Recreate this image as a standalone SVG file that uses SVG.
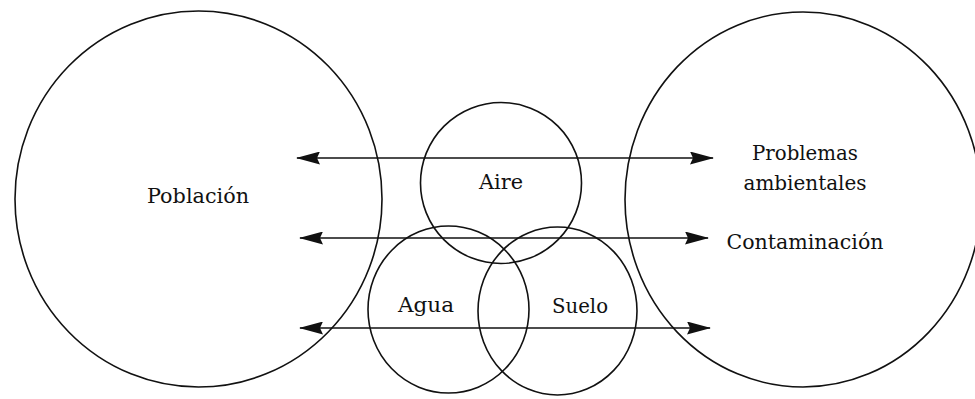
<svg xmlns="http://www.w3.org/2000/svg" width="975" height="399" viewBox="0 0 975 399">
<style>
.c{fill:none;stroke:#111;stroke-width:1.6}
.a{stroke:#111;stroke-width:1.7;fill:none}
.t{font-family:"DejaVu Serif","Liberation Serif",serif;font-size:20.5px;fill:#111;text-anchor:middle}
</style>
<defs>
<marker id="ah" viewBox="0 0 24 13" refX="23" refY="6.5" markerWidth="24" markerHeight="13" markerUnits="userSpaceOnUse" orient="auto-start-reverse">
<path d="M0,0 L24,6.5 L0,13 L3,6.5 Z" fill="#111"/>
</marker>
</defs>
<rect width="975" height="399" fill="#fff"/>
<g id="poblacion">
<ellipse class="c" cx="198.5" cy="199" rx="183.5" ry="188"/>
<text class="t" x="198" y="203" textLength="102" lengthAdjust="spacingAndGlyphs">Población</text>
</g>
<g id="problemas">
<ellipse class="c" cx="803" cy="199.5" rx="178" ry="187.5"/>
<text class="t" x="805" y="160" textLength="106" lengthAdjust="spacingAndGlyphs">Problemas</text>
<text class="t" x="805" y="190" textLength="123" lengthAdjust="spacingAndGlyphs">ambientales</text>
</g>
<g id="contaminacion-label">
<text class="t" x="805" y="249" textLength="157" lengthAdjust="spacingAndGlyphs">Contaminación</text>
</g>
<g id="aire">
<circle class="c" cx="501" cy="183" r="80.5"/>
<text class="t" x="501" y="189" textLength="44" lengthAdjust="spacingAndGlyphs">Aire</text>
</g>
<g id="agua">
<ellipse class="c" cx="448.5" cy="309.5" rx="80.5" ry="83.5"/>
<text class="t" x="426" y="312" textLength="56" lengthAdjust="spacingAndGlyphs">Agua</text>
</g>
<g id="suelo">
<ellipse class="c" cx="557.5" cy="311" rx="79.5" ry="84"/>
<text class="t" x="580" y="313" textLength="56" lengthAdjust="spacingAndGlyphs">Suelo</text>
</g>
<g id="connectors">
<line class="a" x1="297" y1="158" x2="713" y2="158" marker-start="url(#ah)" marker-end="url(#ah)"/>
<line class="a" x1="300" y1="238" x2="708" y2="238" marker-start="url(#ah)" marker-end="url(#ah)"/>
<line class="a" x1="300" y1="328" x2="710" y2="328" marker-start="url(#ah)" marker-end="url(#ah)"/>
</g>
</svg>
